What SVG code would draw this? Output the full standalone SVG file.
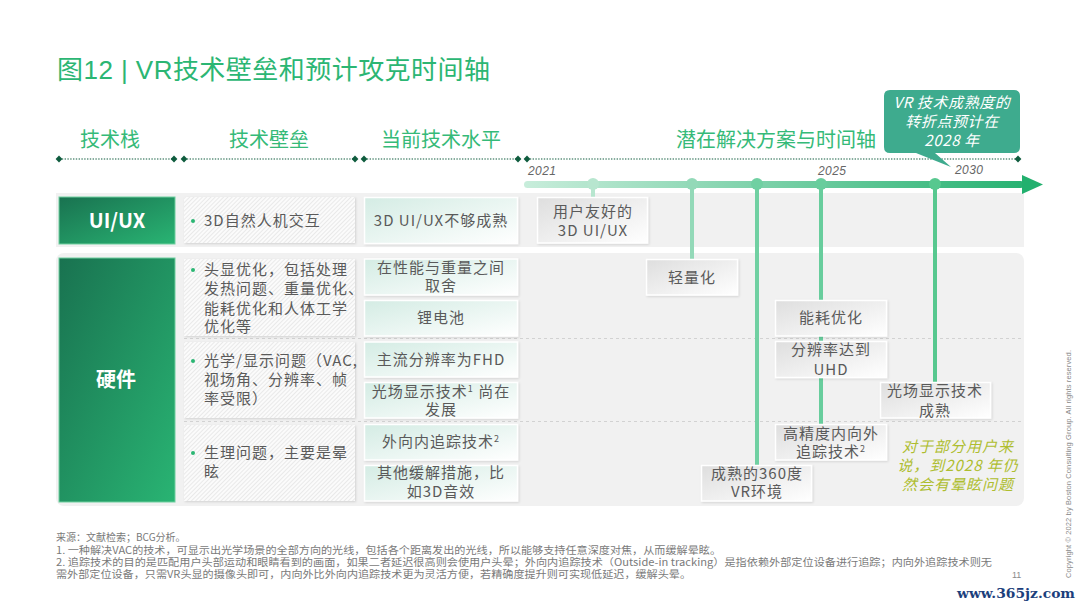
<svg xmlns="http://www.w3.org/2000/svg" width="1080" height="608" viewBox="0 0 1080 608">
<style>
text{font-family:"Noto Sans CJK SC","Liberation Sans",sans-serif}
.title{font-size:26px;fill:#2bb673;font-family:"Liberation Sans","Noto Sans CJK SC",sans-serif}
.head{font-size:20px;fill:#35ba78;text-anchor:middle}
.t{font-size:15px;fill:#5a5a5a;letter-spacing:1px}
.c{text-anchor:middle}
.w{fill:#fff;font-weight:700;text-anchor:middle;font-size:20px}
.yr{font-family:"Liberation Sans",sans-serif;font-style:italic;font-size:12px;fill:#666;letter-spacing:.4px}
.call{font-size:15px;fill:#fff;font-style:italic;text-anchor:middle;letter-spacing:.6px}
.note{font-size:15px;fill:#aebd2f;font-style:italic;text-anchor:middle;letter-spacing:1px}
.fn{font-size:10px;fill:#7a7a7a}
.sup{font-size:9px}
.panel{fill:#f1f1f1}
.hatchbox{fill:url(#hatch);filter:url(#sh)}
.tealbox{fill:url(#teal);stroke:#fff;stroke-width:1.5;filter:url(#sh)}
.greybox{fill:url(#grey);stroke:#fff;stroke-width:1.5;filter:url(#sh)}
.dark{fill:url(#dk);stroke:#6fcf9f;stroke-width:1}
.hl{stroke:#0f5c3e;stroke-width:1.2;stroke-dasharray:1.4 1.4;fill:none}
.dm{fill:#0f5c3e}
.dash{stroke:#d2d2d2;stroke-width:1;stroke-dasharray:3 3;fill:none}
.drop{stroke-width:4;fill:none}
</style>
<defs>
<linearGradient id="dk" x1="0" y1="0" x2="1" y2="1"><stop offset="0" stop-color="#197250"/><stop offset="1" stop-color="#29b473"/></linearGradient>
<linearGradient id="teal" x1="0" y1="0" x2="1" y2="1"><stop offset="0" stop-color="#d4ece4"/><stop offset="1" stop-color="#fff"/></linearGradient>
<linearGradient id="grey" x1="0" y1="0" x2="1" y2="1"><stop offset="0" stop-color="#dedede"/><stop offset="1" stop-color="#fff"/></linearGradient>
<linearGradient id="axis" gradientUnits="userSpaceOnUse" x1="524" y1="0" x2="1043" y2="0"><stop offset="0" stop-color="#c8eddb"/><stop offset="1" stop-color="#22b06e"/></linearGradient>
<pattern id="hatch" width="3" height="3" patternUnits="userSpaceOnUse" patternTransform="rotate(45)"><rect width="3" height="3" fill="#fbfbfb"/><rect width="1" height="3" fill="#e9e9e9"/></pattern>
<filter id="sh" x="-5%" y="-5%" width="112%" height="115%"><feDropShadow dx="1" dy="1" stdDeviation="1" flood-color="#000" flood-opacity=".13"/></filter>
<g id="dia"><path d="M0-3.4L3.4 0L0 3.4L-3.4 0Z"/></g>
</defs>
<rect width="1080" height="608" fill="#fff"/>
<text id="title" class="title" x="57" y="79" textLength="433" lengthAdjust="spacing">图12 | VR技术壁垒和预计攻克时间轴</text>

<g id="headers">
<text class="head" x="110" y="147">技术栈</text>
<text class="head" x="269" y="147">技术壁垒</text>
<text class="head" x="441" y="147">当前技术水平</text>
<text class="head" x="776" y="147">潜在解决方案与时间轴</text>
<path class="hl" d="M59 159H174M184 159H355M364 159H518M527 159H1018"/>
<g class="dm">
<use href="#dia" x="59" y="159"/><use href="#dia" x="174" y="159"/><use href="#dia" x="184" y="159"/><use href="#dia" x="355" y="159"/><use href="#dia" x="364" y="159"/><use href="#dia" x="518" y="159"/><use href="#dia" x="527" y="159"/><use href="#dia" x="1018" y="159"/>
</g>
</g>

<g id="panels">
<rect class="panel" x="56" y="193" width="968" height="54"/>
<rect class="panel" x="56" y="253" width="968" height="253" rx="8"/>
<path class="dash" d="M184 338.500H1022M184 421.500H1022"/>
</g>

<g id="connectors">
<path class="drop" stroke="#b7e6cf" d="M593 184V198"/>
<path class="drop" stroke="#93d9b8" d="M692 184V260"/>
<path class="drop" stroke="#70d0a2" d="M757 184V466"/>
<path class="drop" stroke="#68cd9d" d="M821 184V425"/>
<path class="drop" stroke="#57c88f" d="M935 184V383"/>
<rect x="524" y="181" width="500" height="7" rx="3.500" fill="url(#axis)"/>
<path d="M1022 175L1043 184.500L1022 194Z" fill="#22b06e"/>
<circle cx="593" cy="184" r="6" fill="#b7e6cf"/>
<circle cx="692" cy="184" r="6" fill="#93d9b8"/>
<circle cx="757" cy="184" r="6" fill="#70d0a2"/>
<circle cx="821" cy="184" r="6" fill="#68cd9d"/>
<circle cx="935" cy="184" r="6" fill="#57c88f"/>
</g>

<g id="years">
<text class="yr" x="528" y="175">2021</text>
<text class="yr" x="818" y="175">2025</text>
<text class="yr" x="955" y="174">2030</text>
</g>

<g id="node-uiux"><rect class="dark" x="59" y="197" width="116" height="47"/><text class="w" x="117" y="228">UI/UX</text></g>
<g id="node-hardware"><rect class="dark" x="59" y="258" width="116" height="244"/><text class="w" x="116" y="387">硬件</text></g>

<g id="node-barrier-1"><rect class="hatchbox" x="184" y="197" width="171" height="46"/><circle cx="193" cy="221" r="2" fill="#2bb673"/><text class="t" x="204" y="226">3D自然人机交互</text></g>
<g id="node-barrier-2"><rect class="hatchbox" x="184" y="259" width="171" height="77"/><circle cx="193" cy="270" r="2" fill="#2bb673"/><text class="t" x="204" y="275">头显优化，包括处理</text><text class="t" x="204" y="294">发热问题、重量优化、</text><text class="t" x="204" y="314">能耗优化和人体工学</text><text class="t" x="204" y="332">优化等</text></g>
<g id="node-barrier-3"><rect class="hatchbox" x="184" y="342" width="171" height="76"/><circle cx="193" cy="361" r="2" fill="#2bb673"/><text class="t" x="204" y="366">光学/显示问题（VAC,</text><text class="t" x="204" y="385">视场角、分辨率、帧</text><text class="t" x="204" y="404">率受限）</text></g>
<g id="node-barrier-4"><rect class="hatchbox" x="184" y="425" width="171" height="76"/><circle cx="193" cy="453" r="2" fill="#2bb673"/><text class="t" x="204" y="458">生理问题，主要是晕</text><text class="t" x="204" y="477">眩</text></g>

<g id="node-level-1"><rect class="tealbox" x="364.500" y="197.500" width="153" height="46"/><text class="t c" x="441" y="226">3D UI/UX不够成熟</text></g>
<g id="node-level-2"><rect class="tealbox" x="364.500" y="259" width="153" height="36"/><text class="t c" x="441" y="273">在性能与重量之间</text><text class="t c" x="441" y="291">取舍</text></g>
<g id="node-level-3"><rect class="tealbox" x="364.500" y="300.500" width="153" height="35.500"/><text class="t c" x="441" y="323">锂电池</text></g>
<g id="node-level-4"><rect class="tealbox" x="364.500" y="342" width="153" height="35"/><text class="t c" x="441" y="365">主流分辨率为FHD</text></g>
<g id="node-level-5"><rect class="tealbox" x="364.500" y="382.500" width="153" height="35.500"/><text class="t c" x="441" y="397">光场显示技术<tspan class="sup" dy="-5">1</tspan><tspan dy="5"> 尚在</tspan></text><text class="t c" x="441" y="415">发展</text></g>
<g id="node-level-6"><rect class="tealbox" x="364.500" y="424.500" width="153" height="35.500"/><text class="t c" x="441" y="447">外向内追踪技术<tspan class="sup" dy="-5">2</tspan></text></g>
<g id="node-level-7"><rect class="tealbox" x="364.500" y="465.500" width="153" height="35.500"/><text class="t c" x="441" y="478">其他缓解措施，比</text><text class="t c" x="441" y="497">如3D音效</text></g>

<g id="node-time-1"><rect class="greybox" x="537.500" y="197.500" width="110" height="45.500"/><text class="t c" x="593" y="217">用户友好的</text><text class="t c" x="593" y="236">3D UI/UX</text></g>
<g id="node-time-2"><rect class="greybox" x="646.500" y="259.500" width="91" height="35.500"/><text class="t c" x="692" y="283">轻量化</text></g>
<g id="node-time-3"><rect class="greybox" x="775.500" y="300.500" width="111" height="35.500"/><text class="t c" x="831" y="323">能耗优化</text></g>
<g id="node-time-4"><rect class="greybox" x="775.500" y="341.500" width="111" height="36"/><text class="t c" x="831" y="355">分辨率达到</text><text class="t c" x="831" y="375">UHD</text></g>
<g id="node-time-5"><rect class="greybox" x="880.500" y="382.500" width="110" height="35.500"/><text class="t c" x="935" y="396">光场显示技术</text><text class="t c" x="935" y="416">成熟</text></g>
<g id="node-time-6"><rect class="greybox" x="775.500" y="424.500" width="111" height="35.500"/><text class="t c" x="831" y="439">高精度内向外</text><text class="t c" x="831" y="457">追踪技术<tspan class="sup" dy="-5">2</tspan></text></g>
<g id="node-time-7"><rect class="greybox" x="701.500" y="465.500" width="110" height="35.500"/><text class="t c" x="757" y="479">成熟的360度</text><text class="t c" x="757" y="497">VR环境</text></g>

<g id="node-callout">
<path d="M890 90H1014Q1020 90 1020 96V147Q1020 153 1014 153H935L951 167L916 153H890Q884 153 884 147V96Q884 90 890 90Z" fill="#3eab8e"/>
<text class="call" x="952" y="108">VR 技术成熟度的</text>
<text class="call" x="952" y="127">转折点预计在</text>
<text class="call" x="952" y="146">2028 年</text>
</g>

<g id="note">
<text class="note" x="958" y="452">对于部分用户来</text>
<text class="note" x="958" y="471">说，到2028 年仍</text>
<text class="note" x="958" y="490">然会有晕眩问题</text>
</g>

<g id="footnotes">
<text class="fn" x="56" y="541">来源：文献检索；BCG分析。</text>
<text class="fn" x="56" y="554" textLength="665" lengthAdjust="spacingAndGlyphs">1. 一种解决VAC的技术，可显示出光学场景的全部方向的光线，包括各个距离发出的光线，所以能够支持任意深度对焦，从而缓解晕眩。</text>
<text class="fn" x="56" y="566" textLength="936" lengthAdjust="spacingAndGlyphs">2. 追踪技术的目的是匹配用户头部运动和眼睛看到的画面，如果二者延迟很高则会使用户头晕；外向内追踪技术（Outside-in  tracking）是指依赖外部定位设备进行追踪；内向外追踪技术则无</text>
<text class="fn" x="56" y="578" textLength="635" lengthAdjust="spacingAndGlyphs">需外部定位设备，只需VR头显的摄像头即可，内向外比外向内追踪技术更为灵活方便，若精确度提升则可实现低延迟，缓解头晕。</text>
</g>

<text id="copyright" transform="translate(1071 578) rotate(-90)" font-size="7.500" fill="#8a8a8a" style="font-family:'Liberation Sans',sans-serif" textLength="228" lengthAdjust="spacing">Copyright © 2022 by Boston Consulting Group. All rights reserved.</text>
<text id="page" x="1012" y="578" font-size="9" fill="#8a8a8a" style="font-family:'Liberation Sans',sans-serif">11</text>
<text id="watermark" x="957" y="598" font-size="13" font-weight="700" fill="#1c3f7c" style="font-family:'DejaVu Serif',serif" textLength="118" lengthAdjust="spacingAndGlyphs">www.365jz.com</text>
</svg>
